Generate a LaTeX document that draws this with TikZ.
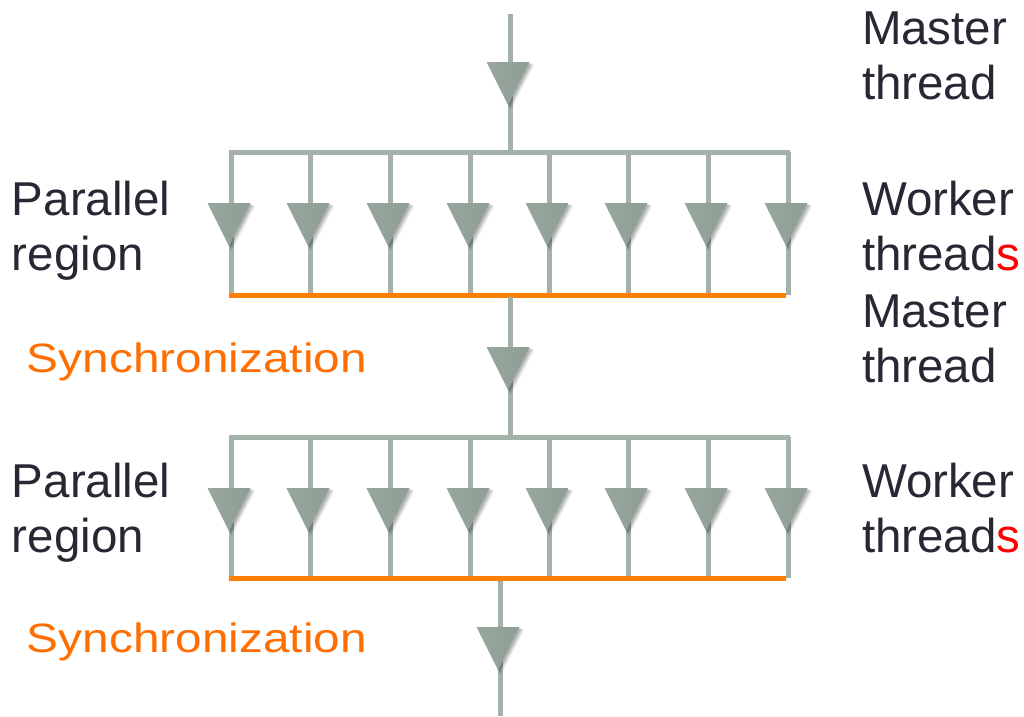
\documentclass[tikz,border=0pt]{standalone}
\usepackage{fontspec}
\setmainfont{Liberation Sans}
\usetikzlibrary{calc}

\definecolor{wire}{HTML}{A3B1A9}
\definecolor{sync}{HTML}{FF8000}
\definecolor{synctext}{HTML}{FF6E00}
\definecolor{ink}{HTML}{272833}
\definecolor{triL}{HTML}{97A79E}
\definecolor{triM}{HTML}{ADBAB3}
\definecolor{triR}{HTML}{8F9E95}

\tikzset{
  wireline/.style={draw=wire, line width=5pt},
  syncline/.style={draw=sync, line width=5pt},
  % base anchor of a two-line label sits on the baseline of its last line
  label/.style={inner sep=0pt, outer sep=0pt, anchor=base west, align=left,
                text=ink, font=\fontsize{47.5}{55}\selectfont},
  synclabel/.style={inner sep=0pt, outer sep=0pt, anchor=base west,
                text=synctext, font=\fontsize{41}{48}\selectfont},
  % downward flow marker: soft shadow plus shaded triangle, apex below
  flowtri/.pic={
    \foreach \s/\o in {5/0.05,4/0.07,3/0.09,2/0.11}{
      \fill[black, opacity=\o] (-21.5+\s,\s*0.6) -- (21.5+\s,\s*0.6) -- (\s*0.6,43+\s) -- cycle;
    }
    \shade[left color=triL, middle color=triM, right color=triR]
      (-21.5,0) -- (21.5,0) -- (0,43) -- cycle;
    \coordinate (-apex) at (0,43);
  }
}
\newcommand{\redS}{\textcolor{red}{s}}

\begin{document}
\begin{tikzpicture}[x=1pt, y=-1pt]
\useasboundingbox (0,0) rectangle (1024,716);

% ---- master thread into the first fork
\coordinate (m0) at (510,14);
\coordinate (f1) at (510,152);
\draw[wireline] (m0) -- (f1);
\pic (mt1) at (508,62) {flowtri};

% ---- first parallel region
\coordinate (b1l) at (229,152);
\coordinate (b1r) at (790,152);
\draw[wireline] (b1l) -- (b1r);
\foreach \i/\x in {1/231,2/310,3/390,4/470,5/549,6/628,7/708,8/788}{
  \coordinate (w1top\i) at (\x,152);
  \coordinate (w1bot\i) at (\x,295);
  \draw[wireline] (w1top\i) -- (w1bot\i);
  \pic (wt1\i) at (\x-2,203) {flowtri};
}
\coordinate (s1l) at (229,295);
\coordinate (s1r) at (786,295);
\draw[syncline] (s1l) -- (s1r);

% ---- master thread between the regions
\coordinate (j1) at (510,297);
\coordinate (f2) at (510,437);
\draw[wireline] (j1) -- (f2);
\pic (mt2) at (508,347) {flowtri};

% ---- second parallel region
\coordinate (b2l) at (229,437);
\coordinate (b2r) at (790,437);
\draw[wireline] (b2l) -- (b2r);
\foreach \i/\x in {1/231,2/310,3/390,4/470,5/549,6/628,7/708,8/788}{
  \coordinate (w2top\i) at (\x,437);
  \coordinate (w2bot\i) at (\x,578);
  \draw[wireline] (w2top\i) -- (w2bot\i);
  \pic (wt2\i) at (\x-2,488) {flowtri};
}
\coordinate (s2l) at (229,578);
\coordinate (s2r) at (786,578);

% ---- master thread after the second join
\coordinate (j2) at (500,578);
\coordinate (m9) at (500,716);
\draw[wireline] (j2) -- (m9);
\draw[syncline] (s2l) -- (s2r);
\pic (mt3) at (498,627) {flowtri};

% ---- labels
\node[label] (lm1) at (862,99) {Master\\thread};
\node[label] (lw1) at (862,270) {Worker\\thread\redS};
\node[label] (lm2) at (862,382) {Master\\thread};
\node[label] (lw2) at (862,552) {Worker\\thread\redS};
\node[label] (lp1) at (12,270) {Parallel\\region};
\node[label] (lp2) at (12,552) {Parallel\\region};
\node[synclabel] (ls1) at (27,372) {\scalebox{1.165}[1]{Synchronization}};
\node[synclabel] (ls2) at (27,652) {\scalebox{1.165}[1]{Synchronization}};
\end{tikzpicture}
\end{document}
